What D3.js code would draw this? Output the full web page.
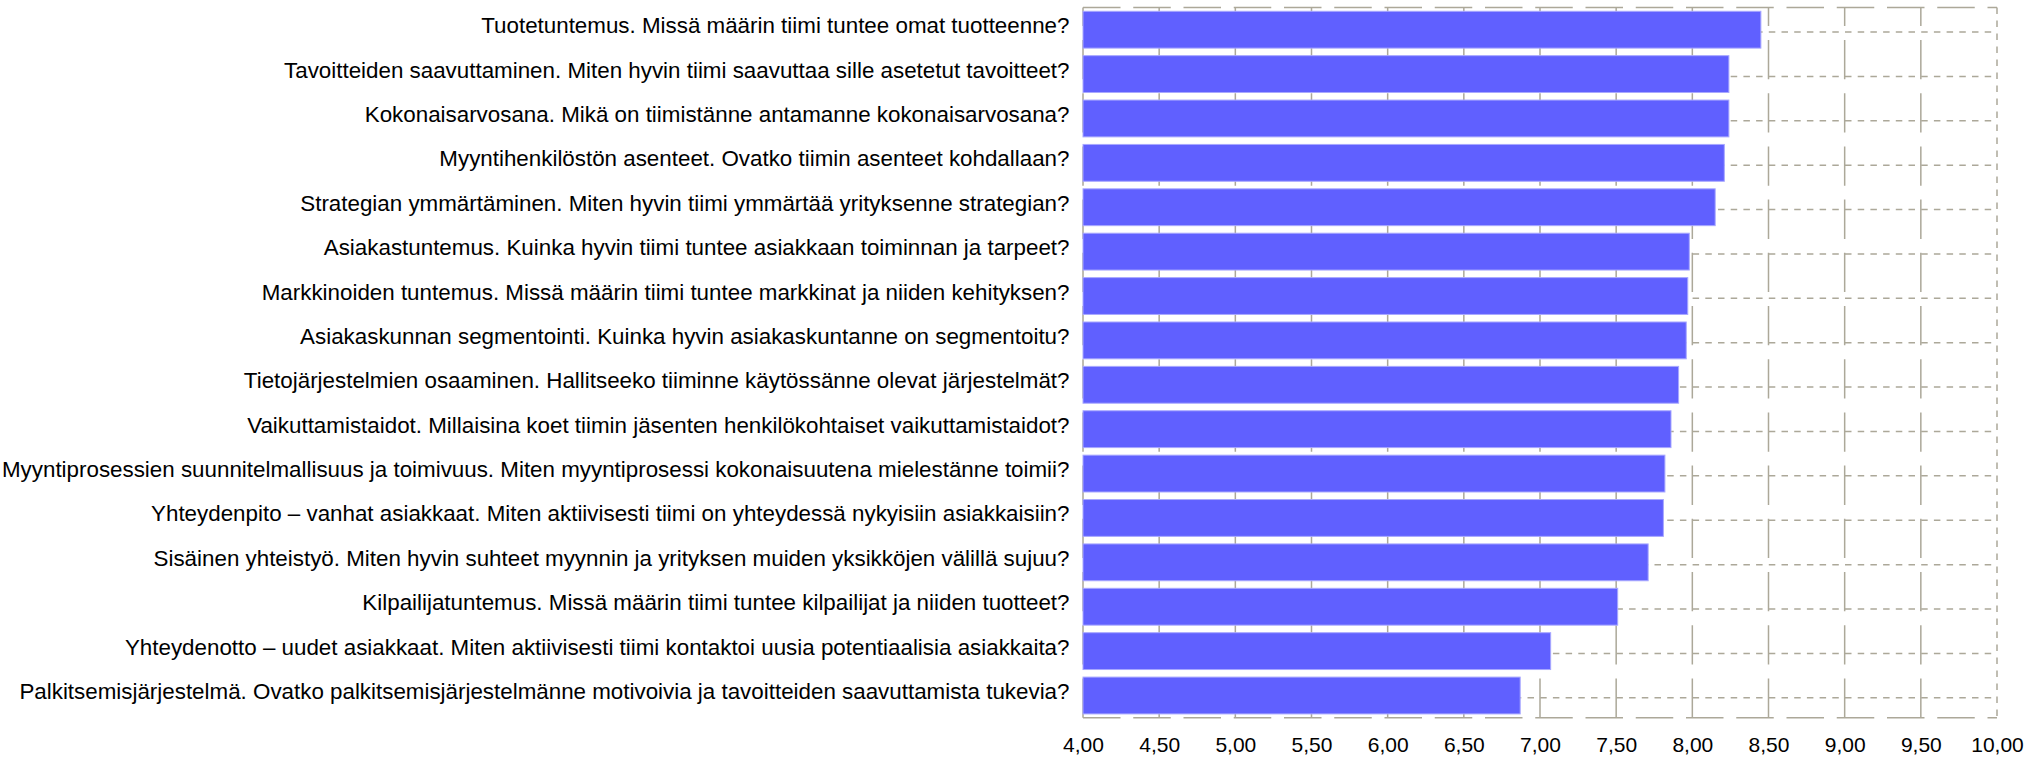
<!DOCTYPE html>
<html>
<head>
<meta charset="utf-8">
<script src="https://cdn.jsdelivr.net/npm/d3@7"></script>
<style>
  html, body { margin: 0; padding: 0; background: #ffffff; }
  svg { display: block; }
  text { font-family: "Liberation Sans", Arial, sans-serif; }
</style>
</head>
<body>
<svg id="chart" width="2034" height="761"></svg>
<script>
const categories = [
  "Tuotetuntemus. Missä määrin tiimi tuntee omat tuotteenne?",
  "Tavoitteiden saavuttaminen. Miten hyvin tiimi saavuttaa sille asetetut tavoitteet?",
  "Kokonaisarvosana. Mikä on tiimistänne antamanne kokonaisarvosana?",
  "Myyntihenkilöstön asenteet. Ovatko tiimin asenteet kohdallaan?",
  "Strategian ymmärtäminen. Miten hyvin tiimi ymmärtää yrityksenne strategian?",
  "Asiakastuntemus. Kuinka hyvin tiimi tuntee asiakkaan toiminnan ja tarpeet?",
  "Markkinoiden tuntemus. Missä määrin tiimi tuntee markkinat ja niiden kehityksen?",
  "Asiakaskunnan segmentointi. Kuinka hyvin asiakaskuntanne on segmentoitu?",
  "Tietojärjestelmien osaaminen. Hallitseeko tiiminne käytössänne olevat järjestelmät?",
  "Vaikuttamistaidot. Millaisina koet tiimin jäsenten henkilökohtaiset vaikuttamistaidot?",
  "Myyntiprosessien suunnitelmallisuus ja toimivuus. Miten myyntiprosessi kokonaisuutena mielestänne toimii?",
  "Yhteydenpito – vanhat asiakkaat. Miten aktiivisesti tiimi on yhteydessä nykyisiin asiakkaisiin?",
  "Sisäinen yhteistyö. Miten hyvin suhteet myynnin ja yrityksen muiden yksikköjen välillä sujuu?",
  "Kilpailijatuntemus. Missä määrin tiimi tuntee kilpailijat ja niiden tuotteet?",
  "Yhteydenotto – uudet asiakkaat. Miten aktiivisesti tiimi kontaktoi uusia potentiaalisia asiakkaita?",
  "Palkitsemisjärjestelmä. Ovatko palkitsemisjärjestelmänne motivoivia ja tavoitteiden saavuttamista tukevia?"
];
const values = [8.45, 8.24, 8.24, 8.21, 8.15, 7.98, 7.97, 7.96, 7.91, 7.86, 7.82, 7.81, 7.71, 7.51, 7.07, 6.87];
const xTickValues = [4, 4.5, 5, 5.5, 6, 6.5, 7, 7.5, 8, 8.5, 9, 9.5, 10];
const xDomain = [4, 10];

const svg = d3.select("#chart");
const pLeft = 1083, pRight = 1997, pTop = 7.5, pBottom = 717.7;
const gridColor = "#aca899";
const gridW = 1.5;

const x = d3.scaleLinear().domain(xDomain).range([pLeft, pRight]);
const y = d3.scaleBand().domain(categories).range([pTop, pBottom])
  .paddingInner(0.17).paddingOuter(0.085);

const locale = d3.formatLocale({decimal: ",", thousands: " ", grouping: [3], currency: ["", "€"]});
const fmt = locale.format(".2f");

svg.append("rect").attr("width", 2034).attr("height", 761).attr("fill", "#ffffff");

// horizontal dotted lines at category centers
svg.append("g").selectAll("line").data(categories).join("line")
  .attr("x1", pLeft).attr("x2", pRight)
  .attr("y1", d => y(d) + y.bandwidth() / 2 + 2.3)
  .attr("y2", d => y(d) + y.bandwidth() / 2 + 2.3)
  .attr("stroke", gridColor).attr("stroke-width", gridW)
  .attr("stroke-dasharray", "6.5,6.2");

// vertical grid lines (drawn bottom -> top)
svg.append("g").selectAll("line").data(xTickValues.filter(v => v > xDomain[0] && v < xDomain[1])).join("line")
  .attr("x1", d => x(d)).attr("x2", d => x(d))
  .attr("y1", pBottom).attr("y2", pTop)
  .attr("stroke", gridColor).attr("stroke-width", gridW)
  .attr("stroke-dasharray", "39.3,13.9");

// left border
svg.append("line").attr("x1", pLeft).attr("x2", pLeft).attr("y1", pBottom).attr("y2", pTop)
  .attr("stroke", gridColor).attr("stroke-width", gridW).attr("stroke-dasharray", "39.3,13.9");

// bars
svg.append("g").selectAll("rect").data(categories).join("rect")
  .attr("x", x(xDomain[0]))
  .attr("y", d => y(d))
  .attr("width", (d, i) => x(values[i]) - x(xDomain[0]))
  .attr("height", y.bandwidth())
  .attr("fill", "#6060ff")
  .attr("stroke", "#a8a8ff").attr("stroke-width", 1);

// top & bottom borders
[pTop, pBottom].forEach(yy => {
  svg.append("line").attr("x1", pLeft).attr("x2", pRight).attr("y1", yy).attr("y2", yy)
    .attr("stroke", gridColor).attr("stroke-width", gridW).attr("stroke-dasharray", "37.5,12.75");
});
// right border
svg.append("line").attr("x1", pRight).attr("x2", pRight).attr("y1", pTop).attr("y2", pBottom)
  .attr("stroke", gridColor).attr("stroke-width", gridW).attr("stroke-dasharray", "6.5,6.5");

// category labels
const labels = svg.append("g").selectAll("text").data(categories).join("text")
  .attr("x", 1069.5)
  .attr("y", d => y(d) + y.bandwidth() / 2 + 3.5)
  .attr("text-anchor", "end")
  .attr("fill", "#000")
  .attr("font-size", 20)
  .text(d => d);
// fit font size so the longest label spans the measured width
let maxW = 0;
labels.each(function () { maxW = Math.max(maxW, this.getComputedTextLength()); });
const fs = maxW > 0 ? 20 * 1067.8 / maxW : 20;
labels.attr("font-size", fs);

// x axis tick labels
const xAxis = d3.axisBottom(x).tickValues(xTickValues).tickFormat(fmt).tickSize(0).tickPadding(0);
const axG = svg.append("g").attr("transform", `translate(0,${pBottom})`).call(xAxis);
axG.select(".domain").remove();
axG.selectAll("text")
  .attr("y", 0).attr("dy", 0)
  .attr("transform", "translate(0,34.5)")
  .attr("font-size", 21)
  .attr("font-family", "'Liberation Sans', Arial, sans-serif")
  .attr("fill", "#000");
</script>
</body>
</html>
